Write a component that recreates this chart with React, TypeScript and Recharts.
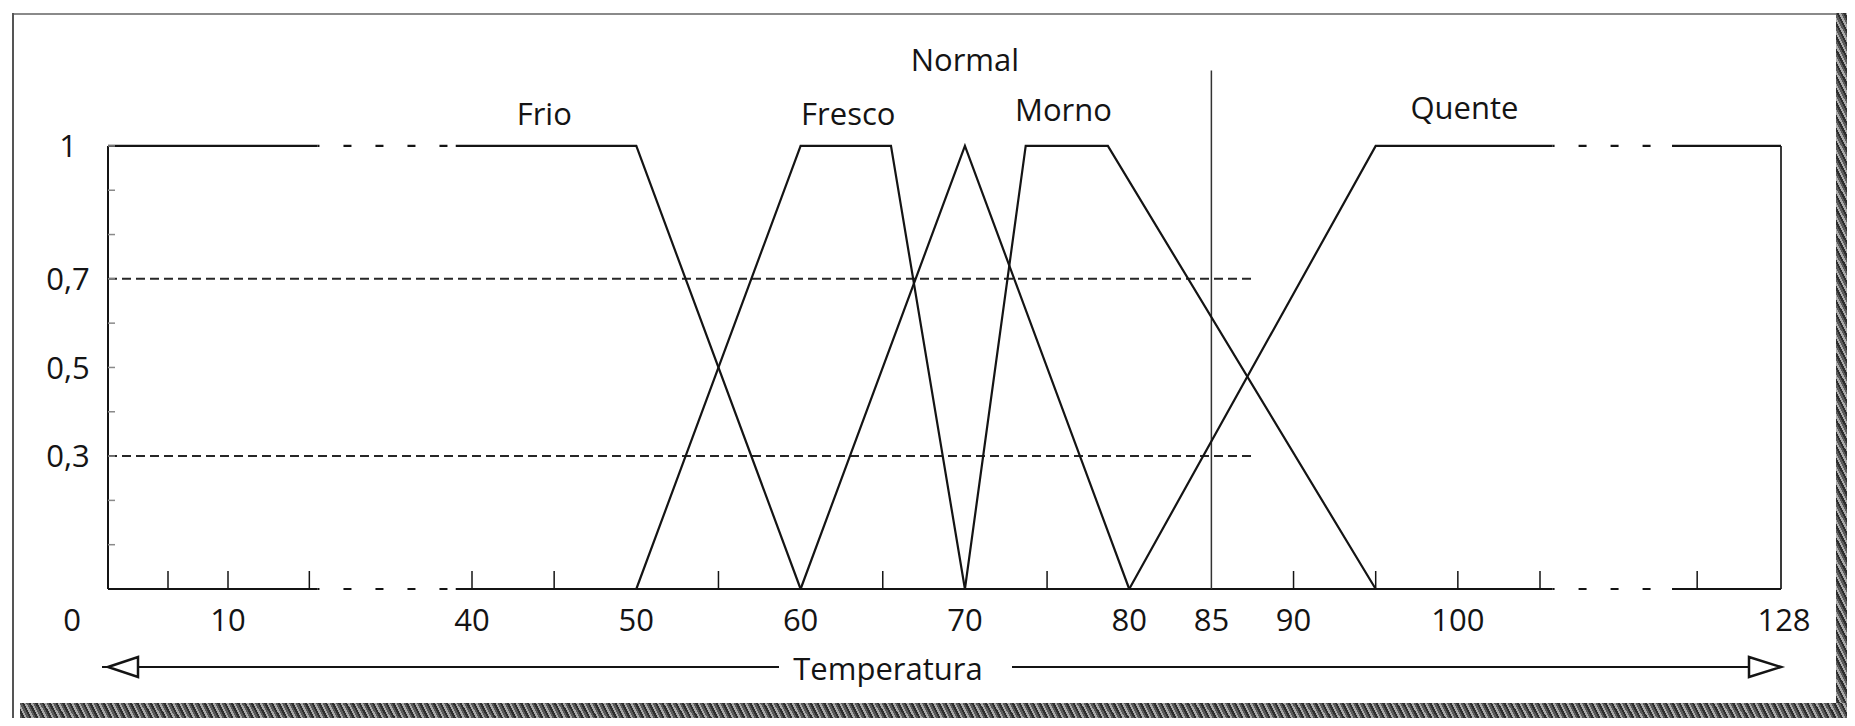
import {
  LineChart,
  Line,
  XAxis,
  YAxis,
  ReferenceLine,
  ReferenceDot,
} from "recharts";

const INK = "#141414";
const FONT = "'Open Sans', 'DejaVu Sans', sans-serif";
const FONT_SIZE = 31;

// broken temperature axis: where the drawn scale changes, and the offset (px) of each point
const axisTemps = [0, 10, 40, 105, 128];
const axisOffsets = [0, 120, 364, 1432, 1673];

// stretches drawn dashed (axis break)
const axisBreaks = [
  [21, 38],
  [106.2, 117.6],
];

const xLabelTemps = [0, 10, 40, 50, 60, 70, 80, 85, 90, 100, 128];
const xMarkTemps = [5, 10, 20, 40, 45, 55, 65, 75, 90, 95, 100, 105, 120];

const yLabelValues = [0.3, 0.5, 0.7, 1];
const yLabelTexts = ["0,3", "0,5", "0,7", "1"];
const yMarkValues = [0.1, 0.2, 0.4, 0.6, 0.8, 0.9];

// membership functions
const frioTemp = [0, 21, 38, 50, 60];
const frioMu = [1, 1, 1, 1, 0];
const frescoTemp = [50, 60, 65.5, 70];
const frescoMu = [0, 1, 1, 0];
const normalTemp = [60, 70, 80];
const normalMu = [0, 1, 0];
const mornoTemp = [70, 73.7, 78.7, 95];
const mornoMu = [0, 1, 1, 0];
const quenteTemp = [80, 95, 106.2, 117.6, 128];
const quenteMu = [0, 1, 1, 1, 1];

const setNames = ["Frio", "Fresco", "Normal", "Morno", "Quente"];
const setLabelTemp = [44.4, 62.9, 70, 76, 100.4];
const setLabelMu = [1.072, 1.072, 1.194, 1.081, 1.086];

// alpha cuts and the crisp input
const cutLevels = [0.3, 0.7];
const cutEndTemp = 87.5;
const crispTemp = 85;
const crispTop = 1.17;

type Pt = { t: number; mu: number };

function warp(t: number) {
  for (let i = 1; i < axisTemps.length; i++) {
    if (t <= axisTemps[i] || i === axisTemps.length - 1) {
      const t0 = axisTemps[i - 1];
      const t1 = axisTemps[i];
      const u0 = axisOffsets[i - 1];
      const u1 = axisOffsets[i];
      return u0 + ((t - t0) / (t1 - t0)) * (u1 - u0);
    }
  }
  return 0;
}

const inBreak = (a: number, b: number) =>
  axisBreaks.some(([s, e]) => a >= s - 1e-9 && b <= e + 1e-9);

// split a polyline into solid / dashed runs at the axis breaks
function runs(temps: number[], mus: number[]) {
  const out: { pts: Pt[]; dashed: boolean }[] = [];
  for (let i = 0; i < temps.length - 1; i++) {
    const dashed = inBreak(temps[i], temps[i + 1]);
    const last = out[out.length - 1];
    const next = { t: temps[i + 1], mu: mus[i + 1] };
    if (last && last.dashed === dashed) last.pts.push(next);
    else out.push({ dashed, pts: [{ t: temps[i], mu: mus[i] }, next] });
  }
  return out;
}

const series = [
  runs(frioTemp, frioMu),
  runs(frescoTemp, frescoMu),
  runs(normalTemp, normalMu),
  runs(mornoTemp, mornoMu),
  runs(quenteTemp, quenteMu),
];

// bottom axis line, broken the same way
const baseStops = [0, ...axisBreaks.flat(), 128];

const xTicks = Array.from(new Set([...xLabelTemps, ...xMarkTemps]))
  .sort((a, b) => a - b)
  .map(warp);

function XTick(props: any) {
  const { x, y, payload } = props;
  const t = [...xLabelTemps, ...xMarkTemps].find(
    (v) => Math.abs(warp(v) - payload.value) < 0.01
  );
  if (t === undefined) return <g />;
  const hasLabel = xLabelTemps.includes(t);
  const hasMark = xMarkTemps.includes(t);
  return (
    <g>
      {hasMark && (
        <line x1={x} x2={x} y1={y} y2={y - 18} stroke={INK} strokeWidth={1.5} />
      )}
      {hasLabel && (
        <text
          x={x + (t === 0 ? -36 : t === 128 ? 3 : 0)}
          y={y + 42}
          textAnchor="middle"
          fontSize={FONT_SIZE}
          fontFamily={FONT}
          fill={INK}
        >
          {t}
        </text>
      )}
    </g>
  );
}

function YTick(props: any) {
  const { x, y, payload } = props;
  const idx = yLabelValues.findIndex((v) => Math.abs(v - payload.value) < 1e-6);
  return (
    <g>
      <line x1={x} x2={x + 7} y1={y} y2={y} stroke="#8a8a8a" strokeWidth={1.5} />
      {idx >= 0 && (
        <text
          x={x - 40}
          y={y}
          dy="0.36em"
          textAnchor="middle"
          fontSize={FONT_SIZE}
          fontFamily={FONT}
          fill={INK}
        >
          {yLabelTexts[idx]}
        </text>
      )}
    </g>
  );
}

function AxisTitle(props: any) {
  const vb = props.viewBox ?? { x: 100, y: 581, width: 1673, height: 110 };
  const left = vb.x;
  const right = vb.x + vb.width;
  const ay = vb.y + 78;
  const cx = vb.x + 780;
  return (
    <g>
      <line x1={left - 6} x2={cx - 109} y1={ay} y2={ay} stroke={INK} strokeWidth={2} />
      <polygon
        points={`${left},${ay} ${left + 30},${ay - 10} ${left + 30},${ay + 10}`}
        fill="#fff"
        stroke={INK}
        strokeWidth={2.5}
      />
      <text
        x={cx}
        y={vb.y + 91}
        textAnchor="middle"
        fontSize={FONT_SIZE}
        fontFamily={FONT}
        fill={INK}
      >
        Temperatura
      </text>
      <line x1={cx + 124} x2={right} y1={ay} y2={ay} stroke={INK} strokeWidth={2} />
      <polygon
        points={`${right},${ay} ${right - 32},${ay - 10} ${right - 32},${ay + 10}`}
        fill="#fff"
        stroke={INK}
        strokeWidth={2.5}
      />
    </g>
  );
}

const scanBand =
  "repeating-linear-gradient(63deg, #2e2e2e 0px, #2e2e2e 2px, #a8a8a8 2px, #a8a8a8 4px, #5a5a5a 4px, #5a5a5a 6px)";

export default function App() {
  return (
    <div style={{ position: "relative", width: 1839, height: 710, background: "#fff" }}>
      {/* scanned page frame */}
      <div style={{ position: "absolute", left: 4, top: 5, width: 1826, height: 2, background: "#8a8a8a" }} />
      <div style={{ position: "absolute", left: 4, top: 5, width: 2, height: 713, background: "#555" }} />
      <div style={{ position: "absolute", left: 1828, top: 5, width: 19, height: 713, background: scanBand }} />
      <div style={{ position: "absolute", left: 12, top: 695, width: 1835, height: 23, background: scanBand }} />

      <div style={{ position: "absolute", left: 0, top: 0 }}>
        <LineChart
          width={1839}
          height={710}
          margin={{ top: 5, right: 66, bottom: 19, left: 0 }}
          style={{ fontFamily: FONT }}
        >
          <XAxis
            type="number"
            dataKey={(p: Pt) => warp(p.t)}
            domain={[0, warp(128)]}
            ticks={xTicks}
            interval={0}
            axisLine={false}
            tickLine={false}
            tickSize={0}
            tickMargin={0}
            tick={XTick}
            height={110}
            label={<AxisTitle />}
          />
          <YAxis
            type="number"
            domain={[0, 1.3]}
            ticks={[...yMarkValues, ...yLabelValues].sort((a, b) => a - b)}
            interval={0}
            axisLine={false}
            tickLine={false}
            tickSize={0}
            tickMargin={0}
            tick={YTick}
            width={100}
          />

          {/* plot frame: left, right and the broken base line */}
          <ReferenceLine
            segment={[{ x: warp(0), y: 0 }, { x: warp(0), y: 1 }]}
            stroke={INK}
            strokeWidth={2}
            ifOverflow="visible"
          />
          <ReferenceLine
            segment={[{ x: warp(128), y: 0 }, { x: warp(128), y: 1 }]}
            stroke="#3a3a3a"
            strokeWidth={2}
            ifOverflow="visible"
          />
          {baseStops.slice(0, -1).map((a, i) => {
            const b = baseStops[i + 1];
            const dashed = inBreak(a, b);
            return (
              <ReferenceLine
                key={`base-${i}`}
                segment={[{ x: warp(a), y: 0 }, { x: warp(b), y: 0 }]}
                stroke={INK}
                strokeWidth={2}
                strokeDasharray={dashed ? "8 24" : undefined}
                strokeDashoffset={dashed ? 6 : undefined}
                ifOverflow="visible"
              />
            );
          })}

          {cutLevels.map((c) => (
            <ReferenceLine
              key={`cut-${c}`}
              segment={[{ x: warp(0), y: c }, { x: warp(cutEndTemp), y: c }]}
              stroke="#262626"
              strokeWidth={2}
              strokeDasharray="9 5"
              ifOverflow="visible"
            />
          ))}
          <ReferenceLine
            segment={[{ x: warp(crispTemp), y: 0 }, { x: warp(crispTemp), y: crispTop }]}
            stroke="#333"
            strokeWidth={1.5}
            ifOverflow="visible"
          />

          {series.map((rs, si) =>
            rs.map((r, ri) => (
              <Line
                key={`s${si}-${ri}`}
                data={r.pts}
                dataKey="mu"
                type="linear"
                stroke={INK}
                strokeWidth={2.2}
                strokeDasharray={r.dashed ? "8 24" : undefined}
                strokeDashoffset={r.dashed ? 6 : undefined}
                dot={false}
                activeDot={false}
                isAnimationActive={false}
              />
            ))
          )}

          {setNames.map((name, i) => (
            <ReferenceDot
              key={name}
              x={warp(setLabelTemp[i])}
              y={setLabelMu[i]}
              r={1}
              fill="none"
              stroke="none"
              ifOverflow="visible"
              label={{
                value: name,
                position: "center",
                fontSize: FONT_SIZE,
                fontFamily: FONT,
                fill: INK,
              }}
            />
          ))}
        </LineChart>
      </div>
    </div>
  );
}
